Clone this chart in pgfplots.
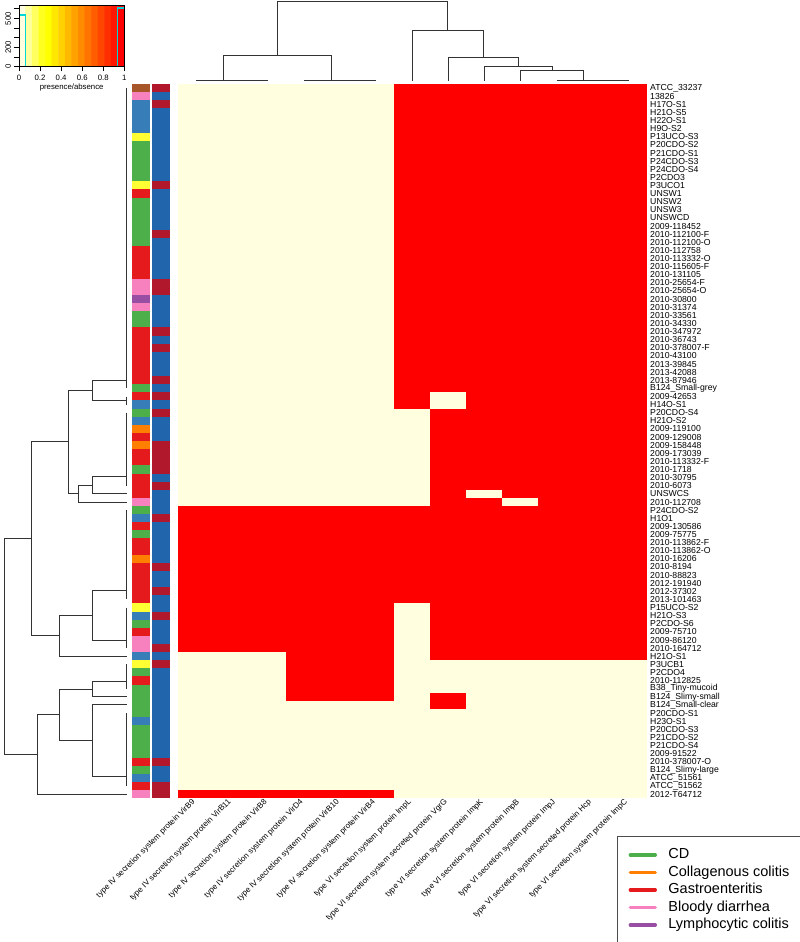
\documentclass[border=0pt]{standalone}
\usepackage{pgfplots}
\pgfplotsset{compat=1.18}
\usepackage{pgfplotstable}
\usepackage{fontspec}
\setmainfont{Liberation Sans}

\definecolor{hmcream}{HTML}{FFFFDF}
\definecolor{hmred}{HTML}{FF0000}
\definecolor{cdgreen}{HTML}{4DAF4A}
\definecolor{ccorange}{HTML}{FF7F00}
\definecolor{gered}{HTML}{E41A1C}
\definecolor{bdpink}{HTML}{F781BF}
\definecolor{lcpurple}{HTML}{984EA3}
\definecolor{hblue}{HTML}{377EB8}
\definecolor{ucyellow}{HTML}{FFFF33}
\definecolor{refbrown}{HTML}{A65628}
\definecolor{grpblue}{HTML}{2166AC}
\definecolor{grpred}{HTML}{B2182B}
\definecolor{keycyan}{HTML}{00D8D8}
\definecolor{dendro}{HTML}{333333}

% one heatmap cell and one side-strip cell, in page points (1pt = 1px)
\pgfdeclareplotmark{hcell}{\pgfpathrectangle{\pgfqpoint{-18.15pt}{-4.15pt}}{\pgfqpoint{36.3pt}{8.3pt}}\pgfusepathqfill}
\pgfdeclareplotmark{scell}{\pgfpathrectangle{\pgfqpoint{-9.15pt}{-4.15pt}}{\pgfqpoint{18.3pt}{8.3pt}}\pgfusepathqfill}

% rows in dendrogram order: diagnosis, group, presence of the 13 genes
\pgfplotstableread{
cat grp c1 c2 c3 c4 c5 c6 c7 c8 c9 c10 c11 c12 c13
br d 0 0 0 0 0 0 1 1 1 1 1 1 1
pk b 0 0 0 0 0 0 1 1 1 1 1 1 1
bl d 0 0 0 0 0 0 1 1 1 1 1 1 1
bl b 0 0 0 0 0 0 1 1 1 1 1 1 1
bl b 0 0 0 0 0 0 1 1 1 1 1 1 1
bl b 0 0 0 0 0 0 1 1 1 1 1 1 1
ye b 0 0 0 0 0 0 1 1 1 1 1 1 1
gr b 0 0 0 0 0 0 1 1 1 1 1 1 1
gr b 0 0 0 0 0 0 1 1 1 1 1 1 1
gr b 0 0 0 0 0 0 1 1 1 1 1 1 1
gr b 0 0 0 0 0 0 1 1 1 1 1 1 1
gr b 0 0 0 0 0 0 1 1 1 1 1 1 1
ye d 0 0 0 0 0 0 1 1 1 1 1 1 1
rd b 0 0 0 0 0 0 1 1 1 1 1 1 1
gr b 0 0 0 0 0 0 1 1 1 1 1 1 1
gr b 0 0 0 0 0 0 1 1 1 1 1 1 1
gr b 0 0 0 0 0 0 1 1 1 1 1 1 1
gr b 0 0 0 0 0 0 1 1 1 1 1 1 1
gr d 0 0 0 0 0 0 1 1 1 1 1 1 1
gr b 0 0 0 0 0 0 1 1 1 1 1 1 1
rd b 0 0 0 0 0 0 1 1 1 1 1 1 1
rd b 0 0 0 0 0 0 1 1 1 1 1 1 1
rd b 0 0 0 0 0 0 1 1 1 1 1 1 1
rd b 0 0 0 0 0 0 1 1 1 1 1 1 1
pk d 0 0 0 0 0 0 1 1 1 1 1 1 1
pk d 0 0 0 0 0 0 1 1 1 1 1 1 1
pu b 0 0 0 0 0 0 1 1 1 1 1 1 1
pk b 0 0 0 0 0 0 1 1 1 1 1 1 1
gr b 0 0 0 0 0 0 1 1 1 1 1 1 1
gr b 0 0 0 0 0 0 1 1 1 1 1 1 1
rd d 0 0 0 0 0 0 1 1 1 1 1 1 1
rd b 0 0 0 0 0 0 1 1 1 1 1 1 1
rd d 0 0 0 0 0 0 1 1 1 1 1 1 1
rd b 0 0 0 0 0 0 1 1 1 1 1 1 1
rd b 0 0 0 0 0 0 1 1 1 1 1 1 1
rd b 0 0 0 0 0 0 1 1 1 1 1 1 1
rd d 0 0 0 0 0 0 1 1 1 1 1 1 1
gr b 0 0 0 0 0 0 1 1 1 1 1 1 1
rd d 0 0 0 0 0 0 1 0 1 1 1 1 1
bl b 0 0 0 0 0 0 1 0 1 1 1 1 1
gr d 0 0 0 0 0 0 0 1 1 1 1 1 1
bl b 0 0 0 0 0 0 0 1 1 1 1 1 1
or b 0 0 0 0 0 0 0 1 1 1 1 1 1
rd b 0 0 0 0 0 0 0 1 1 1 1 1 1
or d 0 0 0 0 0 0 0 1 1 1 1 1 1
rd d 0 0 0 0 0 0 0 1 1 1 1 1 1
rd d 0 0 0 0 0 0 0 1 1 1 1 1 1
gr d 0 0 0 0 0 0 0 1 1 1 1 1 1
rd b 0 0 0 0 0 0 0 1 1 1 1 1 1
rd d 0 0 0 0 0 0 0 1 1 1 1 1 1
rd b 0 0 0 0 0 0 0 1 0 1 1 1 1
pk b 0 0 0 0 0 0 0 1 1 0 1 1 1
gr b 1 1 1 1 1 1 1 1 1 1 1 1 1
bl d 1 1 1 1 1 1 1 1 1 1 1 1 1
rd b 1 1 1 1 1 1 1 1 1 1 1 1 1
gr b 1 1 1 1 1 1 1 1 1 1 1 1 1
rd b 1 1 1 1 1 1 1 1 1 1 1 1 1
rd b 1 1 1 1 1 1 1 1 1 1 1 1 1
or b 1 1 1 1 1 1 1 1 1 1 1 1 1
rd d 1 1 1 1 1 1 1 1 1 1 1 1 1
rd b 1 1 1 1 1 1 1 1 1 1 1 1 1
rd b 1 1 1 1 1 1 1 1 1 1 1 1 1
rd d 1 1 1 1 1 1 1 1 1 1 1 1 1
rd b 1 1 1 1 1 1 1 1 1 1 1 1 1
ye b 1 1 1 1 1 1 0 1 1 1 1 1 1
bl d 1 1 1 1 1 1 0 1 1 1 1 1 1
gr b 1 1 1 1 1 1 0 1 1 1 1 1 1
rd b 1 1 1 1 1 1 0 1 1 1 1 1 1
pk b 1 1 1 1 1 1 0 1 1 1 1 1 1
pk d 1 1 1 1 1 1 0 1 1 1 1 1 1
bl b 0 0 0 1 1 1 0 1 1 1 1 1 1
ye d 0 0 0 1 1 1 0 0 0 0 0 0 0
gr b 0 0 0 1 1 1 0 0 0 0 0 0 0
rd b 0 0 0 1 1 1 0 0 0 0 0 0 0
gr b 0 0 0 1 1 1 0 0 0 0 0 0 0
gr b 0 0 0 1 1 1 0 1 0 0 0 0 0
gr b 0 0 0 0 0 0 0 1 0 0 0 0 0
gr b 0 0 0 0 0 0 0 0 0 0 0 0 0
bl b 0 0 0 0 0 0 0 0 0 0 0 0 0
gr b 0 0 0 0 0 0 0 0 0 0 0 0 0
gr b 0 0 0 0 0 0 0 0 0 0 0 0 0
gr b 0 0 0 0 0 0 0 0 0 0 0 0 0
gr b 0 0 0 0 0 0 0 0 0 0 0 0 0
rd d 0 0 0 0 0 0 0 0 0 0 0 0 0
gr b 0 0 0 0 0 0 0 0 0 0 0 0 0
bl b 0 0 0 0 0 0 0 0 0 0 0 0 0
rd d 0 0 0 0 0 0 0 0 0 0 0 0 0
pk d 1 1 1 1 1 1 0 0 0 0 0 0 0
}\hm

\pgfplotsset{
  dend/.style={dendro, line width=1pt, forget plot},
  rowaxis/.style={scale only axis, height=714.3pt, ymin=0.5, ymax=88.5, y dir=reverse},
}

\begin{document}
\begin{tikzpicture}
\useasboundingbox (0pt,0pt) rectangle (800pt,-942pt);

% colour key with histogram
\begin{axis}[at={(19pt,-66.7pt)}, anchor=south west, scale only axis,
  width=105.3pt, height=61.7pt,
  xmin=0, xmax=1, ymin=0, ymax=640, axis on top,
  xtick={0,0.2,0.4,0.6,0.8,1}, ytick={0,100,200,300,400,500,600},
  yticklabels={0,,200,,,500,},
  tick align=outside, major tick length=4.5pt, xtick pos=bottom, ytick pos=left,
  tick style={black, line width=0.8pt}, axis line style={line width=0.8pt},
  yticklabel style={rotate=90, anchor=south},
  xlabel={presence/absence}, xlabel style={yshift=3pt},
  /pgf/number format/assume math mode=true,
  tick label style={font=\fontsize{7.8}{8}\selectfont},
  label style={font=\fontsize{7.8}{8}\selectfont},
  colormap={keymap}{rgb255=(255,255,223) rgb255=(255,255,159) rgb255=(255,255,96)
    rgb255=(255,255,32) rgb255=(255,255,0) rgb255=(255,232,0) rgb255=(255,209,0)
    rgb255=(255,185,0) rgb255=(255,162,0) rgb255=(255,139,0) rgb255=(255,116,0)
    rgb255=(255,93,0) rgb255=(255,70,0) rgb255=(255,46,0) rgb255=(255,23,0)
    rgb255=(255,0,0)},
  point meta min=0, point meta max=15]
\addplot[matrix plot*, mesh/cols=16, point meta=explicit] coordinates {
  (0.03125,160) [0] (0.09375,160) [1] (0.15625,160) [2] (0.21875,160) [3]
  (0.28125,160) [4] (0.34375,160) [5] (0.40625,160) [6] (0.46875,160) [7]
  (0.53125,160) [8] (0.59375,160) [9] (0.65625,160) [10] (0.71875,160) [11]
  (0.78125,160) [12] (0.84375,160) [13] (0.90625,160) [14] (0.96875,160) [15]
  (0.03125,480) [0] (0.09375,480) [1] (0.15625,480) [2] (0.21875,480) [3]
  (0.28125,480) [4] (0.34375,480) [5] (0.40625,480) [6] (0.46875,480) [7]
  (0.53125,480) [8] (0.59375,480) [9] (0.65625,480) [10] (0.71875,480) [11]
  (0.78125,480) [12] (0.84375,480) [13] (0.90625,480) [14] (0.96875,480) [15]
};
\addplot[const plot, keycyan, line width=1.3pt] coordinates {
  (0,536) (0.0625,0) (0.9375,608) (1,608)};
\end{axis}

% column dendrogram, also carries the legend
\begin{axis}[at={(178.3pt,-80.7pt)}, anchor=south west, scale only axis,
  width=468.4pt, height=79pt, xmin=0.5, xmax=13.5, ymin=0, ymax=7.616,
  hide axis, clip=false,
  legend style={at={(0.937,-9.557)}, anchor=north west, draw=black!70,
    line width=0.9pt, font=\fontsize{14.5}{17}\selectfont,
    inner xsep=11pt, inner ysep=10pt, row sep=0pt,
    nodes={inner sep=2pt, text height=10.5pt, text depth=3pt},
    /tikz/every odd column/.append style={column sep=9.5pt}},
  legend cell align=left,
  legend image code/.code={\draw[#1, line width=3.3pt, line cap=round] (1.65pt,0pt) -- (26.65pt,0pt);}]
\addplot[dend] coordinates {(1,0) (3,0)};
\addplot[dend] coordinates {(4,0) (6,0)};
\addplot[dend] coordinates {(11,0) (13,0)};
\addplot[dend] coordinates {(1.75,0) (1.75,2.449) (4.75,2.449) (4.75,0)};
\addplot[dend] coordinates {(10,0) (10,1) (11.75,1) (11.75,0)};
\addplot[dend] coordinates {(9,0) (9,1.414) (10.875,1.414) (10.875,1)};
\addplot[dend] coordinates {(8,0) (8,2.236) (9.9375,2.236) (9.9375,1.414)};
\addplot[dend] coordinates {(7,0) (7,4.796) (8.969,4.796) (8.969,2.236)};
\addplot[dend] coordinates {(3.25,2.449) (3.25,7.616) (7.984,7.616) (7.984,4.796)};
\addlegendimage{cdgreen}
\addlegendimage{ccorange}
\addlegendimage{gered}
\addlegendimage{bdpink}
\addlegendimage{lcpurple}
\legend{CD, Collagenous colitis, Gastroenteritis, Bloody diarrhea, Lymphocytic colitis}
\end{axis}

% row dendrogram
\begin{axis}[rowaxis, at={(126.7pt,-84pt)}, anchor=north east,
  width=122pt, xmin=0, xmax=3.606, x dir=reverse, hide axis, clip=false]
\addplot[dend] coordinates {(0,1) (0,38)};
\addplot[dend] coordinates {(0,39) (0,40)};
\addplot[dend] coordinates {(0,41) (0,50)};
\addplot[dend] coordinates {(0,53) (0,64)};
\addplot[dend] coordinates {(0,65) (0,70)};
\addplot[dend] coordinates {(0,72) (0,75)};
\addplot[dend] coordinates {(0,78) (0,87)};
\addplot[dend] coordinates {(0,37.0) (1,37.0) (1,39.5) (0,39.5)};
\addplot[dend] coordinates {(0,48.9) (1,48.9) (1,51) (0,51)};
\addplot[dend] coordinates {(1,49.95) (1.414,49.95) (1.414,52) (0,52)};
\addplot[dend] coordinates {(1,38.25) (1.732,38.25) (1.732,50.98) (1.414,50.98)};
\addplot[dend] coordinates {(0,62.9) (1,62.9) (1,69.0) (0,69.0)};
\addplot[dend] coordinates {(1,65.95) (2,65.95) (2,71) (0,71)};
\addplot[dend] coordinates {(1.732,44.6) (2.828,44.6) (2.828,68.5) (2,68.5)};
\addplot[dend] coordinates {(0,74.1) (1,74.1) (1,76) (0,76)};
\addplot[dend] coordinates {(0,77) (1,77) (1,85.8) (0,85.8)};
\addplot[dend] coordinates {(1,75.05) (2,75.05) (2,81.4) (1,81.4)};
\addplot[dend] coordinates {(2,78.2) (2.646,78.2) (2.646,88) (0,88)};
\addplot[dend] coordinates {(2.828,56.55) (3.606,56.55) (3.606,83.1) (2.646,83.1)};
\end{axis}

% side colour strips
\begin{axis}[rowaxis, at={(130.85pt,-84pt)}, anchor=north west,
  width=40pt, xmin=0.5, xmax=2.5, hide axis]
\addplot[scatter, only marks, mark=scell, point meta=explicit symbolic,
  scatter/classes={gr={fill=cdgreen}, or={fill=ccorange}, rd={fill=gered},
    pk={fill=bdpink}, pu={fill=lcpurple}, bl={fill=hblue},
    ye={fill=ucyellow}, br={fill=refbrown}}]
  table[x expr=1, y expr=\coordindex+1, meta=cat] {\hm};
\addplot[scatter, only marks, mark=scell, point meta=explicit symbolic,
  scatter/classes={b={fill=grpblue}, d={fill=grpred}}]
  table[x expr=2, y expr=\coordindex+1, meta=grp] {\hm};
\end{axis}

% heatmap
\begin{axis}[rowaxis, at={(178.3pt,-84pt)}, anchor=north west,
  width=468.4pt, xmin=0.5, xmax=13.5,
  axis line style={draw=none}, major tick length=0pt,
  xtick={1,...,13}, ytick={1,...,88}, yticklabel pos=right,
  xticklabels={type IV secretion system protein VirB9,
    type IV secretion system protein VirB11,
    type IV secretion system protein VirB8,
    type IV secretion system protein VirD4,
    type IV secretion system protein VirB10,
    type IV secretion system protein VirB4,
    type VI secretion system protein ImpL,
    type VI secretion system secreted protein VgrG,
    type VI secretion system protein ImpK,
    type VI secretion system protein ImpB,
    type VI secretion system protein ImpJ,
    type VI secretion system secreted protein Hcp,
    type VI secretion system protein ImpC},
  yticklabels={ATCC\_33237,13826,H17O-S1,H21O-S5,H22O-S1,H9O-S2,P13UCO-S3,
    P20CDO-S2,P21CDO-S1,P24CDO-S3,P24CDO-S4,P2CDO3,P3UCO1,UNSW1,UNSW2,UNSW3,
    UNSWCD,2009-118452,2010-112100-F,2010-112100-O,2010-112758,2010-113332-O,
    2010-115605-F,2010-131105,2010-25654-F,2010-25654-O,2010-30800,2010-31374,
    2010-33561,2010-34330,2010-347972,2010-36743,2010-378007-F,2010-43100,
    2013-39845,2013-42088,2013-87946,B124\_Small-grey,2009-42653,H14O-S1,
    P20CDO-S4,H21O-S2,2009-119100,2009-129008,2009-158448,2009-173039,
    2010-113332-F,2010-1718,2010-30795,2010-6073,UNSWCS,2010-112708,P24CDO-S2,
    H1O1,2009-130586,2009-75775,2010-113862-F,2010-113862-O,2010-16206,
    2010-8194,2010-88823,2012-191940,2012-37302,2013-101463,P15UCO-S2,H21O-S3,
    P2CDO-S6,2009-75710,2009-86120,2010-164712,H21O-S1,P3UCB1,P2CDO4,
    2010-112825,B38\_Tiny-mucoid,B124\_Slimy-small,B124\_Small-clear,P20CDO-S1,
    H23O-S1,P20CDO-S3,P21CDO-S2,P21CDO-S4,2009-91522,2010-378007-O,
    B124\_Slimy-large,ATCC\_51561,ATCC\_51562,2012-T64712},
  xticklabel style={rotate=45, anchor=east, font=\fontsize{8}{9}\selectfont},
  yticklabel style={font=\fontsize{8.7}{9}\selectfont},
  colormap={hm}{color=(hmcream) color=(hmred)},
  point meta min=0, point meta max=1]
\pgfplotsinvokeforeach{1,...,13}{
  \addplot[scatter, only marks, mark=hcell, point meta=explicit]
    table[x expr=#1, y expr=\coordindex+1, meta=c#1] {\hm};
}
\end{axis}
\end{tikzpicture}
\end{document}
